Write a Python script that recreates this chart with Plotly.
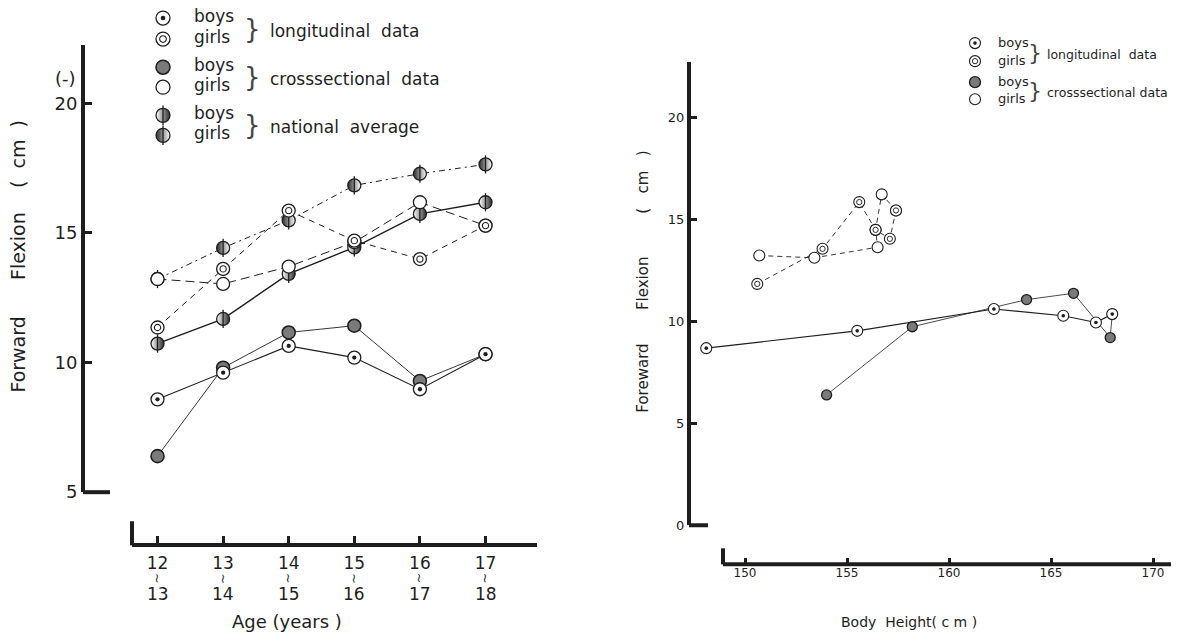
import plotly.graph_objects as go

W, H = 1179, 639
YS = 0.982          # vertical compensation of the capture
INK = "#1e1e1e"
GRAY = "#7a7a7a"
FONT = "DejaVu Sans"
NB = "\u00a0"

# ---------------- data: left panel (flexion by age) ----------------
ages = [12, 13, 14, 15, 16, 17]
age_top = ["12", "13", "14", "15", "16", "17"]
age_bottom = ["13", "14", "15", "16", "17", "18"]
boys_long = [8.58, 9.61, 10.64, 10.19, 8.97, 10.32]
girls_long = [11.35, 13.61, 15.86, 14.70, 13.99, 15.28]
boys_cross = [6.39, 9.80, 11.16, 11.42, 9.29, 10.32]
girls_cross = [13.22, 13.03, 13.70, 14.64, 16.18, 15.28]
boys_nat = [10.73, 11.68, 13.42, 14.44, 15.73, 16.18]
girls_nat = [13.22, 14.42, 15.48, 16.83, 17.28, 17.64]
left_yticks = [5, 10, 15, 20]

# ---------------- data: right panel (flexion by body height) ----------------
boys_long_h = [148.1, 155.5, 162.2, 165.6, 167.2, 168.0]
boys_long_f = [8.68, 9.53, 10.60, 10.27, 9.94, 10.35]
boys_cross_h = [154.0, 158.2, 163.8, 166.1, 167.9, 168.0]
boys_cross_f = [6.39, 9.73, 11.06, 11.37, 9.20, 10.35]
girls_long_h = [150.6, 153.8, 155.6, 156.4, 157.1, 157.4]
girls_long_f = [11.83, 13.55, 15.84, 14.48, 14.04, 15.43]
girls_cross_h = [150.7, 153.4, 156.5, 156.4, 156.7, 157.4]
girls_cross_f = [13.22, 13.11, 13.63, 14.48, 16.22, 15.43]
right_xticks = [150, 155, 160, 165, 170]
right_yticks = [0, 5, 10, 15, 20]


def Y(v):
    return v / YS


def px(v):
    return v / W


def py(v):
    return 1 - Y(v) / H


fig = go.Figure()


def add_line(x, y, xa, ya, dash, width):
    fig.add_trace(go.Scatter(x=x, y=y, xaxis=xa, yaxis=ya, mode="lines",
                             line=dict(color=INK, width=width, dash=dash),
                             hoverinfo="skip", showlegend=False))


def add_markers(kind, x, y, xa, ya, size, lw):
    base = dict(x=x, y=y, xaxis=xa, yaxis=ya, mode="markers",
                hoverinfo="skip", showlegend=False, cliponaxis=False)
    if kind in ("boys_long", "girls_long", "girls_cross"):
        fig.add_trace(go.Scatter(**base, marker=dict(symbol="circle", size=size, color="white",
                                                     line=dict(color=INK, width=lw))))
        if kind == "boys_long":
            fig.add_trace(go.Scatter(**base, marker=dict(symbol="circle", size=size * 0.33,
                                                         color=INK, line=dict(width=0))))
        elif kind == "girls_long":
            fig.add_trace(go.Scatter(**base, marker=dict(symbol="circle", size=size * 0.48,
                                                         color="white",
                                                         line=dict(color=INK, width=lw * 0.85))))
    elif kind == "boys_cross":
        fig.add_trace(go.Scatter(**base, marker=dict(symbol="circle", size=size, color=GRAY,
                                                     line=dict(color=INK, width=lw * 1.2))))
    elif kind in ("boys_nat", "girls_nat"):
        if kind == "boys_nat":
            col, grad = "white", "#2a2a2a"
        else:
            col, grad = "#2a2a2a", "white"
        fig.add_trace(go.Scatter(**base, marker=dict(symbol="circle", size=size, color=col,
                                                     gradient=dict(type="horizontal", color=grad),
                                                     line=dict(color=INK, width=lw))))
        fig.add_trace(go.Scatter(**base, marker=dict(symbol="line-ns", size=size,
                                                     line=dict(color=INK, width=lw))))


# ---------- left panel ----------
add_line(ages, girls_nat, "x", "y", "6px,4px,2px,4px", 1.0)
add_line(ages, boys_nat, "x", "y", "solid", 1.4)
add_line(ages, girls_cross, "x", "y", "9px,5px", 1.0)
add_line(ages, girls_long, "x", "y", "6px,5px", 1.0)
add_line(ages, boys_cross, "x", "y", "solid", 0.9)
add_line(ages, boys_long, "x", "y", "solid", 1.1)
LS, LW = 13, 1.3
add_markers("boys_nat", ages, boys_nat, "x", "y", LS, LW)
add_markers("girls_nat", ages, girls_nat, "x", "y", LS, LW)
add_markers("girls_cross", ages, girls_cross, "x", "y", LS, LW)
add_markers("girls_long", ages, girls_long, "x", "y", LS, LW)
add_markers("boys_cross", ages, boys_cross, "x", "y", LS, LW)
add_markers("boys_long", ages, boys_long, "x", "y", LS, LW)

# ---------- right panel ----------
add_line(girls_cross_h, girls_cross_f, "x2", "y2", "5px,4px", 0.9)
add_line(girls_long_h, girls_long_f, "x2", "y2", "5px,4px", 0.9)
add_line(boys_cross_h, boys_cross_f, "x2", "y2", "solid", 0.8)
add_line(boys_long_h, boys_long_f, "x2", "y2", "solid", 1.2)
RS, RW = 11, 1.1
add_markers("girls_cross", girls_cross_h, girls_cross_f, "x2", "y2", RS, RW)
add_markers("girls_long", girls_long_h, girls_long_f, "x2", "y2", RS, RW)
add_markers("boys_cross", boys_cross_h, boys_cross_f, "x2", "y2", RS - 1, RW)
add_markers("boys_long", boys_long_h, boys_long_f, "x2", "y2", RS, RW)

# ---------- text helpers ----------
annotations = []


def ann(text, x, y, size, xanchor="left", angle=0, color=INK, xref="x3"):
    annotations.append(dict(text=text, x=x, y=Y(y), xref=xref, yref="y3", showarrow=False,
                            xanchor=xanchor, yanchor="middle", textangle=angle,
                            font=dict(family=FONT, size=size, color=color)))


# lower lines of the age tick labels ("12 ~ 13", the tilde set vertically)
for a, lo in zip(ages, age_bottom):
    ann("~", a, 577, 13, xanchor="center", angle=90, xref="x")
    ann(lo, a, 593, 17, xanchor="center", xref="x")

# ---------- legends (overlay pixel axes x3/y3) ----------
left_rows = [18, 39, 67, 87, 115, 135]
left_kinds = ["boys_long", "girls_long", "boys_cross", "girls_cross", "boys_nat", "girls_nat"]
for r, k in zip(left_rows, left_kinds):
    add_markers(k, [163], [Y(r)], "x3", "y3", 14, 1.3)
    ann("boys" if k.startswith("boys") else "girls", 192, r - 2, 17)
for i, lab in enumerate(["longitudinal" + NB * 2 + "data", "crosssectional" + NB * 2 + "data",
                         "national" + NB * 2 + "average"]):
    ymid = (left_rows[2 * i] + left_rows[2 * i + 1]) / 2
    ann("}", 242, ymid, 26, color="#444")
    ann(lab, 268, ymid + 2, 17)

right_rows = [43, 61, 82, 99]
right_kinds = ["boys_long", "girls_long", "boys_cross", "girls_cross"]
for r, k in zip(right_rows, right_kinds):
    add_markers(k, [975], [Y(r)], "x3", "y3", 11, 1.1)
    ann("boys" if k.startswith("boys") else "girls", 996, r - 1, 13)
for i, lab in enumerate(["longitudinal" + NB * 2 + "data", "crosssectional" + NB + "data"]):
    ymid = (right_rows[2 * i] + right_rows[2 * i + 1]) / 2
    ann("}", 1026, ymid, 22, color="#444")
    ann(lab, 1045, ymid + 2, 12.5)

# titles
ann("(-)", 65, 78, 18, xanchor="center")
ann("Forward" + NB * 6 + "Flexion" + NB * 4 + "(" + NB * 2 + "cm" + NB * 2 + ")", 18, 256, 19,
    xanchor="center", angle=-90)
ann("Age" + NB + "(years" + NB + ")", 287, 620, 18, xanchor="center")
ann("Foreward" + NB * 7 + "Flexion" + NB * 9 + "(" + NB * 3 + "cm" + NB * 3 + ")", 643, 281, 15,
    xanchor="center", angle=-90)
ann("Body" + NB * 2 + "Height(" + NB + "c" + NB + "m" + NB + ")", 909, 621, 14, xanchor="center")

# axis stubs / detached right x-axis line (decoration)
shapes = []


def seg(x0, y0, x1, y1, w=4):
    shapes.append(dict(type="line", xref="x3", yref="y3", x0=x0, y0=Y(y0), x1=x1, y1=Y(y1),
                       line=dict(color=INK, width=w)))


seg(83, 491, 110, 491)
seg(132, 520, 132, 544)
seg(689, 524, 708, 524)
seg(723, 563, 1171, 563)
seg(723, 547, 723, 563)

axis_common = dict(showgrid=False, zeroline=False, ticks="inside", tickcolor=INK,
                   linecolor=INK, fixedrange=True)

fig.update_layout(
    width=W, height=H, margin=dict(l=0, r=0, t=0, b=0),
    paper_bgcolor="white", plot_bgcolor="rgba(0,0,0,0)",
    font=dict(family=FONT, color=INK),
    showlegend=False,
    xaxis=dict(domain=[px(132), px(537)], range=[11.611, 17.785], anchor="free",
               position=py(544), showline=True, linewidth=4, ticklen=7, tickwidth=3,
               tickvals=ages, ticktext=age_top, tickfont=dict(size=17),
               ticklabelstandoff=1, **axis_common),
    yaxis=dict(domain=[py(491), py(45)], range=[5, 22.24], anchor="free", position=px(83),
               showline=True, linewidth=4, ticklen=7, tickwidth=3, tickvals=left_yticks,
               tickfont=dict(size=18), **axis_common),
    xaxis2=dict(domain=[px(689), px(1171)], range=[147.255, 170.88], anchor="free",
                position=py(563), showline=False, ticklen=6, tickwidth=3,
                tickvals=right_xticks, tickfont=dict(size=12), **axis_common),
    yaxis2=dict(domain=[py(524), py(62)], range=[0, 22.7], anchor="free", position=px(689),
                showline=True, linewidth=4, ticklen=6, tickwidth=3, tickvals=right_yticks,
                tickfont=dict(size=13), **axis_common),
    xaxis3=dict(domain=[0, 1], range=[0, W], visible=False, fixedrange=True),
    yaxis3=dict(domain=[0, 1], range=[H, 0], visible=False, fixedrange=True),
    annotations=annotations,
    shapes=shapes,
)

fig.write_html("out.html")
